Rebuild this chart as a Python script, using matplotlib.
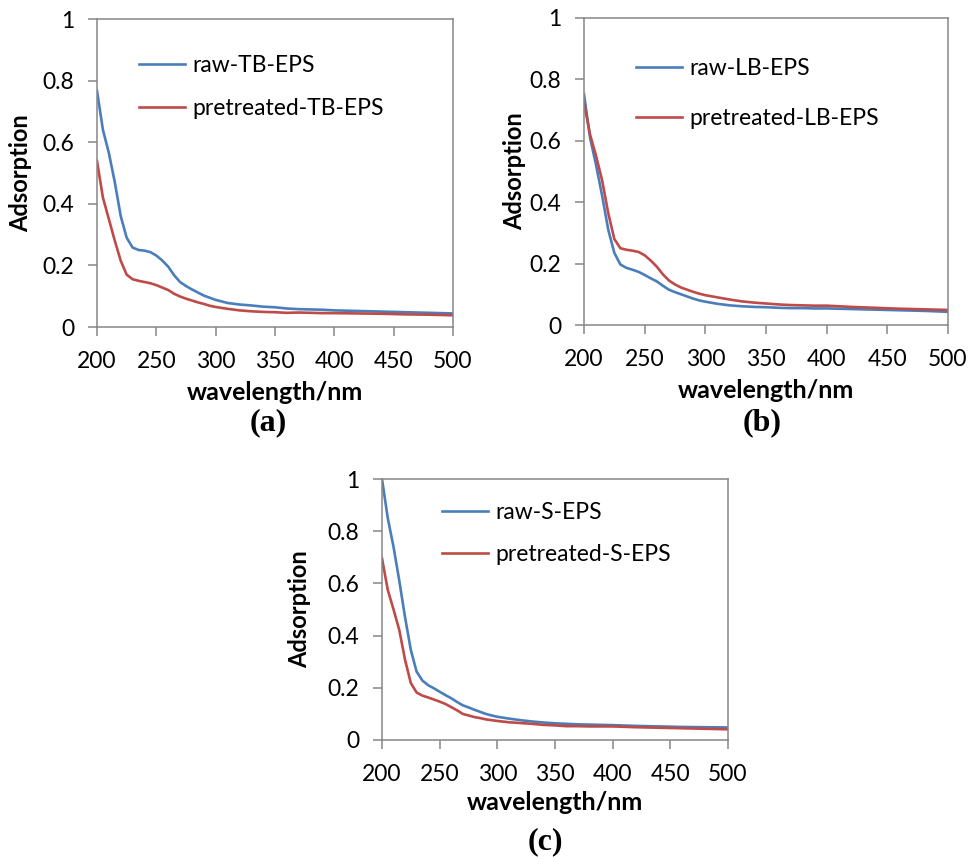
import numpy as np
import matplotlib
matplotlib.use("Agg")
import matplotlib.pyplot as plt

plt.rcParams['font.family'] = ['Lato', 'DejaVu Sans']

# wavelength grid (nm)
wl = [200, 205, 210, 215, 220, 225, 230, 235, 240, 245, 250, 255, 260, 265, 270,
      275, 280, 285, 290, 295, 300, 310, 320, 330, 340, 350, 360, 370, 380, 390,
      400, 420, 440, 460, 480, 500]

# panel (a)
raw_tb = [0.767, 0.640, 0.565, 0.470, 0.360, 0.290, 0.258, 0.250, 0.248, 0.243,
          0.232, 0.216, 0.196, 0.168, 0.146, 0.133, 0.122, 0.112, 0.102, 0.095,
          0.088, 0.078, 0.073, 0.070, 0.066, 0.064, 0.060, 0.058, 0.057, 0.056,
          0.054, 0.052, 0.050, 0.048, 0.046, 0.044]
pre_tb = [0.539, 0.420, 0.350, 0.280, 0.215, 0.170, 0.155, 0.150, 0.146, 0.142,
          0.136, 0.128, 0.120, 0.108, 0.099, 0.092, 0.086, 0.080, 0.075, 0.069,
          0.065, 0.059, 0.054, 0.051, 0.049, 0.048, 0.046, 0.047, 0.046, 0.045,
          0.045, 0.044, 0.043, 0.041, 0.040, 0.038]

# panel (b)
raw_lb = [0.752, 0.610, 0.520, 0.420, 0.310, 0.235, 0.197, 0.186, 0.180, 0.173,
          0.163, 0.152, 0.142, 0.128, 0.115, 0.107, 0.100, 0.093, 0.086, 0.080,
          0.076, 0.069, 0.064, 0.061, 0.059, 0.058, 0.056, 0.055, 0.055, 0.054,
          0.054, 0.052, 0.050, 0.048, 0.046, 0.043]
pre_lb = [0.725, 0.620, 0.550, 0.470, 0.364, 0.280, 0.250, 0.245, 0.242, 0.238,
          0.227, 0.210, 0.190, 0.165, 0.145, 0.132, 0.122, 0.115, 0.108, 0.102,
          0.097, 0.090, 0.083, 0.077, 0.073, 0.070, 0.067, 0.065, 0.064, 0.063,
          0.063, 0.059, 0.056, 0.053, 0.051, 0.049]

# panel (c)
raw_s = [1.000, 0.850, 0.740, 0.610, 0.470, 0.345, 0.262, 0.228, 0.210, 0.198,
         0.185, 0.172, 0.160, 0.146, 0.133, 0.125, 0.116, 0.108, 0.100, 0.094,
         0.089, 0.082, 0.076, 0.071, 0.067, 0.064, 0.062, 0.060, 0.059, 0.058,
         0.057, 0.054, 0.052, 0.050, 0.049, 0.048]
pre_s = [0.696, 0.575, 0.500, 0.421, 0.307, 0.218, 0.182, 0.170, 0.163, 0.155,
         0.147, 0.138, 0.126, 0.114, 0.100, 0.094, 0.088, 0.084, 0.079, 0.076,
         0.073, 0.068, 0.065, 0.062, 0.058, 0.056, 0.053, 0.053, 0.052, 0.052,
         0.052, 0.049, 0.047, 0.045, 0.043, 0.041]

panels = [
    ("(a)", raw_tb, pre_tb, "raw-TB-EPS", "pretreated-TB-EPS"),
    ("(b)", raw_lb, pre_lb, "raw-LB-EPS", "pretreated-LB-EPS"),
    ("(c)", raw_s, pre_s, "raw-S-EPS", "pretreated-S-EPS"),
]

W, H = 969, 857
# axes boxes in pixels: left, top, right, bottom
boxes = [(97, 19, 453, 327), (584, 18, 948, 325), (382, 479, 728, 740)]
legend_top = [(139, 55), (636, 58), (442, 502)]
legend_gap = [0.94, 1.27, 0.92]
panel_lab_pos = [(268, 423), (762, 423), (545, 842)]
ylab_x = [21, 515, 300]
xlab_y = [392, 390, 803]

blue = '#4a7ebb'
red = '#be4b48'
spine_col = '#868686'

fig = plt.figure(figsize=(W / 100, H / 100), dpi=100)

for i, (lab, raw, pre, lraw, lpre) in enumerate(panels):
    l, t, r, b = boxes[i]
    ax = fig.add_axes([l / W, 1 - b / H, (r - l) / W, (b - t) / H])
    ax.plot(wl, raw, color=blue, linewidth=1.9, label=lraw)
    ax.plot(wl, pre, color=red, linewidth=1.9, label=lpre)
    ax.set_xlim(200, 500)
    ax.set_ylim(0, 1)
    ax.set_xticks(range(200, 501, 50))
    ax.set_yticks([0, 0.2, 0.4, 0.6, 0.8, 1])
    ax.set_yticklabels(['0', '0.2', '0.4', '0.6', '0.8', '1'])
    for s in ax.spines.values():
        s.set_color(spine_col)
        s.set_linewidth(1.1)
    ax.tick_params(direction='out', length=6.5, width=1.1, color=spine_col,
                   labelsize=16.5, labelcolor='black')
    ax.tick_params(axis='x', pad=11)
    ax.tick_params(axis='y', pad=10)
    ax.set_xlabel('wavelength/nm', fontsize=18, fontweight='bold')
    ax.xaxis.label.set_va('center')
    ax.xaxis.set_label_coords(0.5, (b - xlab_y[i]) / (b - t))
    ax.set_ylabel('Adsorption', fontsize=17, fontweight='bold')
    ax.yaxis.label.set_va('center')
    ax.yaxis.set_label_coords((ylab_x[i] - l) / (r - l), 0.5)
    lx, ly = legend_top[i]
    ax.legend(loc='upper left', frameon=False, fontsize=16.5,
              bbox_to_anchor=((lx - l) / (r - l), 1 - (ly - t) / (b - t)),
              borderaxespad=0, borderpad=0, handlelength=2.0,
              handletextpad=0.35, labelspacing=legend_gap[i])
    px, py = panel_lab_pos[i]
    fig.text(px / W, 1 - py / H, lab, ha='center', va='center', fontsize=23,
             fontweight='bold', family='Liberation Serif')

fig.savefig('out.png', dpi=100)
